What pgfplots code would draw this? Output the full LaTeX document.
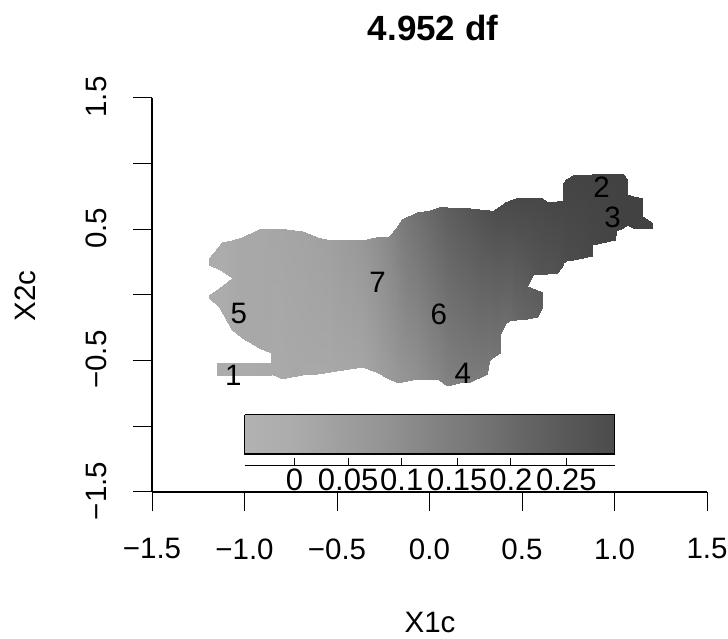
\documentclass[border=0pt]{standalone}
\usepackage{pgfplots}
\pgfplotsset{compat=1.18}
\usepackage{fontspec}
\setmainfont{Liberation Sans}
\newcommand{\fs}{\fontsize{29.5}{30}\selectfont}
\newcommand{\fb}{\fontsize{31}{31}\selectfont}
\pgfplotstableread{
x y c
-1.19 0.278 172
-1.19 0.225 172
-1.12 0.40 172
-1.12 0.18 172
-1.07 0.42 170
-1.07 0.126 170
}\mapUpper
\pgfplotstableread{
x y c
-1.19 0.00 172
-1.19 -0.02 172
-1.137 0.05 172
-1.137 -0.095 172
-1.07 0.126 170
-1.07 -0.27 170
}\mapLower
\pgfplotstableread{
x y c
-1.07 0.42 170
-1.07 -0.27 170
-1.013 0.438 168
-1.013 -0.33 168
-0.92 0.506 168
-0.92 -0.40 168
-0.857 0.506 166
-0.857 -0.44 168
-0.856 0.506 166
-0.856 -0.60 170
-0.81 0.506 166
-0.81 -0.63 170
-0.774 0.506 165
-0.774 -0.63 169
-0.688 0.484 164
-0.688 -0.61 168
-0.61 0.44 162
-0.61 -0.60 168
-0.54 0.415 160
-0.54 -0.59 168
-0.433 0.415 155
-0.433 -0.56 166
-0.363 0.415 152
-0.363 -0.552 165
-0.287 0.438 144
-0.287 -0.59 160
-0.217 0.453 136
-0.217 -0.64 155
-0.18 0.51 130
-0.18 -0.666 152
-0.146 0.58 122
-0.146 -0.66 150
-0.07 0.63 112
-0.07 -0.64 145
0.00 0.65 104
0.00 -0.64 138
0.054 0.667 98
0.054 -0.65 134
0.097 0.667 94
0.097 -0.69 130
0.18 0.666 88
0.18 -0.666 126
0.217 0.66 86
0.217 -0.66 125
0.31 0.65 80
0.31 -0.60 122
0.32 0.65 80
0.32 -0.50 120
0.34 0.64 78
0.34 -0.48 118
0.38 0.68 75
0.38 -0.44 116
0.381 0.68 75
0.381 -0.30 112
0.406 0.705 74
0.406 -0.22 110
0.433 0.72 73
0.433 -0.194 108
0.47 0.74 72
0.47 -0.19 104
0.525 0.74 72
0.525 -0.18 100
0.526 0.74 72
0.526 0.07 92
0.558 0.74 72
0.558 0.15 86
0.61 0.74 72
0.61 0.16 84
0.634 0.71 71
0.634 0.16 84
0.69 0.715 70
0.69 0.17 82
0.719 0.72 70
0.719 0.23 78
0.72 0.85 68
0.72 0.24 78
0.74 0.88 68
0.74 0.26 76
0.774 0.91 68
0.774 0.27 75
0.877 0.925 67
0.877 0.30 72
0.88 0.925 67
0.88 0.38 71
1.00 0.92 66
1.00 0.415 68
1.01 0.92 66
1.01 0.49 67
1.045 0.918 66
1.045 0.51 66
1.067 0.88 66
1.067 0.53 66
1.07 0.77 66
1.07 0.53 66
1.10 0.755 66
1.10 0.51 66
1.148 0.735 66
1.148 0.51 66
1.149 0.605 66
1.149 0.51 66
1.207 0.55 66
1.207 0.51 66
}\mapMain
\pgfplotstableread{
x y c
0.525 0.07 95
0.525 -0.18 100
0.58 0.04 92
0.58 -0.17 98
0.61 0.02 90
0.61 -0.10 94
}\mapBulge
\pgfplotstableread{
x y c
-1.00 -0.91 178
-1.00 -1.21 178
-0.75 -0.91 172
-0.75 -1.21 172
-0.50 -0.91 160
-0.50 -1.21 160
-0.25 -0.91 148
-0.25 -1.21 148
0.00 -0.91 132
0.00 -1.21 132
0.25 -0.91 118
0.25 -1.21 118
0.50 -0.91 102
0.50 -1.21 102
0.75 -0.91 88
0.75 -1.21 88
1.00 -0.91 75
1.00 -1.21 75
}\barCells
\pgfplotstableread{
x y c
-1.15 -0.514 172
-1.15 -0.613 172
-0.856 -0.514 170
-0.856 -0.613 170
}\regionOne
\begin{document}
\begin{tikzpicture}[x=1pt,y=1pt]
\path[use as bounding box] (0,0) rectangle (728,639);
\begin{axis}[
  at={(152pt,147pt)}, anchor=south west,
  width=555pt, height=394pt, scale only axis,
  xmin=-1.5, xmax=1.5, ymin=-1.5, ymax=1.5,
  axis x line*=bottom, axis y line*=left,
  axis line style={line width=1.1pt,-},
  xtick={-1.5,-1,-0.5,0,0.5,1,1.5},
  xticklabels={−1.5,−1.0,−0.5,0.0,0.5,1.0,1.5},
  ytick={-1.5,-1,-0.5,0,0.5,1,1.5},
  yticklabels={−1.5,,−0.5,,0.5,,1.5},
  tick style={line width=1pt,black},
  tick align=outside,
  major tick length=19pt,
  x tick label style={font=\fs, yshift=-24pt},
  y tick label style={font=\fs, rotate=90, anchor=south, xshift=1pt, yshift=23pt},
  clip=false,
  colormap={realgray}{gray(0cm)=(0); gray(255cm)=(1)},
  point meta min=0, point meta max=255,
]
\addplot[surf, shader=interp, mesh/cols=2, mesh/rows=3, point meta=\thisrow{c}] table[x=x,y=y] {\mapUpper};
\addplot[surf, shader=interp, mesh/cols=2, mesh/rows=3, point meta=\thisrow{c}] table[x=x,y=y] {\mapLower};
\addplot[surf, shader=interp, mesh/cols=2, mesh/rows=51, point meta=\thisrow{c}] table[x=x,y=y] {\mapMain};
\addplot[surf, shader=interp, mesh/cols=2, mesh/rows=3, point meta=\thisrow{c}] table[x=x,y=y] {\mapBulge};
\addplot[surf, shader=interp, mesh/cols=2, mesh/rows=2, point meta=\thisrow{c}] table[x=x,y=y] {\regionOne};
\addplot[surf, shader=interp, mesh/cols=2, mesh/rows=9, point meta=\thisrow{c}] table[x=x,y=y] {\barCells};
\addplot[black, line width=1.4pt, mark=none] coordinates {(-1,-0.91) (1,-0.91) (1,-1.21) (-1,-1.21) (-1,-0.91)};
\addplot[black, line width=1.2pt, mark=none] coordinates {(-1,-1.30) (1,-1.30)};
\addplot[black, line width=1pt, mark=none] coordinates {(-0.73,-1.30) (-0.73,-1.24)};
\addplot[black, line width=1pt, mark=none] coordinates {(-0.44,-1.30) (-0.44,-1.24)};
\addplot[black, line width=1pt, mark=none] coordinates {(-0.15,-1.30) (-0.15,-1.24)};
\addplot[black, line width=1pt, mark=none] coordinates {(0.15,-1.30) (0.15,-1.24)};
\addplot[black, line width=1pt, mark=none] coordinates {(0.44,-1.30) (0.44,-1.24)};
\addplot[black, line width=1pt, mark=none] coordinates {(0.74,-1.30) (0.74,-1.24)};
\node[font=\fb, inner sep=0pt] at (axis cs:-0.73,-1.405) {0};
\node[font=\fb, inner sep=0pt] at (axis cs:-0.44,-1.405) {0.05};
\node[font=\fb, inner sep=0pt] at (axis cs:-0.15,-1.405) {0.1};
\node[font=\fb, inner sep=0pt] at (axis cs:0.15,-1.405) {0.15};
\node[font=\fb, inner sep=0pt] at (axis cs:0.44,-1.405) {0.2};
\node[font=\fb, inner sep=0pt] at (axis cs:0.74,-1.405) {0.25};
\node[font=\fs, inner sep=0pt, text=black] at (axis cs:-1.06,-0.61) {1};
\node[font=\fs, inner sep=0pt, text=black] at (axis cs:0.93,0.82) {2};
\node[font=\fs, inner sep=0pt, text=black] at (axis cs:0.99,0.59) {3};
\node[font=\fs, inner sep=0pt, text=black] at (axis cs:0.18,-0.60) {4};
\node[font=\fs, inner sep=0pt, text=black] at (axis cs:-1.03,-0.14) {5};
\node[font=\fs, inner sep=0pt, text=black] at (axis cs:0.05,-0.15) {6};
\node[font=\fs, inner sep=0pt, text=black] at (axis cs:-0.28,0.10) {7};
\end{axis}
\node[font=\fontsize{35}{35}\selectfont\bfseries] at (433,611) {4.952 df};
\node[font=\fs] at (430,17) {X1c};
\node[font=\fs, rotate=90] at (25,343) {X2c};
\end{tikzpicture}
\end{document}
